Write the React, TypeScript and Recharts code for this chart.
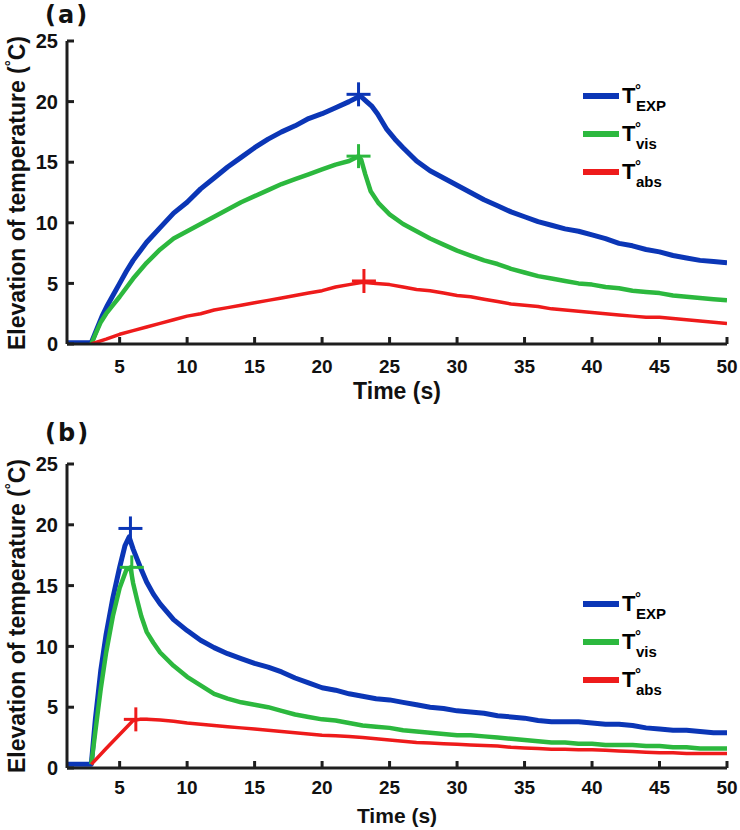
import React from 'react';
import { ComposedChart, Line, XAxis, YAxis, Legend } from 'recharts';

// ---------- Panel (a) data ----------
const tA_exp = [1.1, 2.0, 2.9, 3.3, 3.7, 4.1, 4.5, 5, 5.5, 6, 7, 8, 9, 10, 11, 12, 13, 14, 15, 16, 17, 18, 19, 20, 21, 22, 22.7,
  22.9, 23.3, 23.7, 24.1, 24.8, 25.4, 26, 27, 28, 29, 30, 31, 32, 33, 34, 35, 36, 37, 38, 39, 40, 41, 42, 43, 44, 45, 46, 47, 48, 49, 50];
const vA_exp = [0.1, 0.1, 0.1, 1.2, 2.3, 3.2, 4.0, 5.0, 6.0, 6.9, 8.4, 9.6, 10.8, 11.7, 12.8, 13.7, 14.6, 15.4, 16.2, 16.9, 17.5, 18.0, 18.6, 19.0, 19.5, 20.0, 20.4,
  20.4, 20.0, 19.6, 19.0, 17.7, 16.9, 16.2, 15.1, 14.3, 13.7, 13.1, 12.5, 11.9, 11.4, 10.9, 10.5, 10.1, 9.8, 9.5, 9.3, 9.0, 8.7, 8.3, 8.1, 7.8, 7.6, 7.3, 7.1, 6.9, 6.8, 6.7];

const tA_vis = [2.9, 3.2, 3.6, 4.0, 4.5, 5, 6, 7, 8, 9, 10, 11, 12, 13, 14, 15, 16, 17, 18, 19, 20, 21, 22, 22.7,
  22.9, 23.2, 23.6, 24.2, 25, 26, 27, 28, 29, 30, 31, 32, 33, 34, 35, 36, 37, 38, 39, 40, 41, 42, 43, 44, 45, 46, 47, 48, 49, 50];
const vA_vis = [0.0, 0.8, 1.8, 2.5, 3.2, 3.9, 5.4, 6.7, 7.8, 8.7, 9.3, 9.9, 10.5, 11.1, 11.7, 12.2, 12.7, 13.2, 13.6, 14.0, 14.4, 14.8, 15.1, 15.5,
  15.2, 14.0, 12.6, 11.6, 10.7, 9.9, 9.3, 8.7, 8.2, 7.7, 7.3, 6.9, 6.6, 6.2, 5.9, 5.6, 5.4, 5.2, 5.0, 4.9, 4.7, 4.6, 4.4, 4.3, 4.2, 4.0, 3.9, 3.8, 3.7, 3.6];

const tA_abs = [2.9, 4, 5, 6, 7, 8, 9, 10, 11, 12, 13, 14, 15, 16, 17, 18, 19, 20, 21, 22, 23,
  24, 25, 26, 27, 28, 29, 30, 31, 32, 33, 34, 35, 36, 37, 38, 39, 40, 41, 42, 43, 44, 45, 46, 47, 48, 49, 50];
const vA_abs = [0.0, 0.4, 0.8, 1.1, 1.4, 1.7, 2.0, 2.3, 2.5, 2.8, 3.0, 3.2, 3.4, 3.6, 3.8, 4.0, 4.2, 4.4, 4.7, 4.9, 5.1,
  5.0, 4.9, 4.7, 4.5, 4.4, 4.2, 4.0, 3.9, 3.7, 3.5, 3.3, 3.2, 3.1, 2.9, 2.8, 2.7, 2.6, 2.5, 2.4, 2.3, 2.2, 2.2, 2.1, 2.0, 1.9, 1.8, 1.7];

const peakA_t = [22.7, 22.7, 23.1];
const peakA_v = [20.6, 15.5, 5.2];

// ---------- Panel (b) data ----------
const tB_exp = [1.1, 2.0, 2.9, 3.2, 3.6, 4.0, 4.5, 5.0, 5.4, 5.7, 6.0, 6.5, 7, 7.5, 8, 9, 10, 11, 12, 13, 14, 15, 16, 17, 18, 19, 20,
  21, 22, 23, 24, 25, 26, 27, 28, 29, 30, 31, 32, 33, 34, 35, 36, 37, 38, 39, 40, 41, 42, 43, 44, 45, 46, 47, 48, 49, 50];
const vB_exp = [0.3, 0.3, 0.3, 4.0, 8.0, 11.0, 14.0, 16.5, 18.3, 19.0, 18.0, 16.6, 15.3, 14.3, 13.5, 12.2, 11.3, 10.5, 9.9, 9.4, 9.0, 8.6, 8.3, 7.9, 7.4, 7.0, 6.6,
  6.4, 6.1, 5.9, 5.7, 5.6, 5.4, 5.2, 5.0, 4.9, 4.7, 4.6, 4.5, 4.3, 4.2, 4.1, 3.9, 3.8, 3.8, 3.8, 3.7, 3.6, 3.6, 3.5, 3.3, 3.2, 3.1, 3.1, 3.0, 2.9, 2.9];

const tB_vis = [2.9, 3.2, 3.6, 4.0, 4.5, 5.0, 5.5, 5.8, 6.0, 6.3, 6.6, 7, 7.5, 8, 9, 10, 11, 12, 13, 14, 15, 16, 17, 18, 19, 20,
  21, 22, 23, 24, 25, 26, 27, 28, 29, 30, 31, 32, 33, 34, 35, 36, 37, 38, 39, 40, 41, 42, 43, 44, 45, 46, 47, 48, 49, 50];
const vB_vis = [0.3, 3.0, 6.5, 9.5, 12.5, 14.8, 16.3, 16.5, 15.2, 13.8, 12.5, 11.2, 10.3, 9.5, 8.4, 7.5, 6.8, 6.1, 5.7, 5.4, 5.2, 5.0, 4.7, 4.4, 4.2, 4.0,
  3.9, 3.7, 3.5, 3.4, 3.3, 3.1, 3.0, 2.9, 2.8, 2.7, 2.7, 2.6, 2.5, 2.4, 2.3, 2.2, 2.1, 2.1, 2.0, 2.0, 1.9, 1.9, 1.9, 1.8, 1.8, 1.7, 1.7, 1.6, 1.6, 1.6];

const tB_abs = [2.9, 4, 5, 6.0, 6.5, 7, 8, 9, 10, 11, 12, 13, 14, 15, 16, 17, 18, 19, 20,
  21, 22, 23, 24, 25, 26, 27, 28, 29, 30, 31, 32, 33, 34, 35, 36, 37, 38, 39, 40, 41, 42, 43, 44, 45, 46, 47, 48, 49, 50];
const vB_abs = [0.3, 1.6, 2.75, 3.9, 4.0, 4.0, 3.95, 3.85, 3.7, 3.6, 3.5, 3.4, 3.3, 3.2, 3.1, 3.0, 2.9, 2.8, 2.7,
  2.65, 2.6, 2.5, 2.4, 2.3, 2.2, 2.1, 2.05, 2.0, 1.95, 1.9, 1.85, 1.8, 1.7, 1.65, 1.6, 1.55, 1.55, 1.5, 1.5, 1.45, 1.4, 1.35, 1.3, 1.25, 1.25, 1.2, 1.2, 1.2, 1.2];

const peakB_t = [5.8, 5.9, 6.2];
const peakB_v = [19.7, 16.5, 4.0];

// ---------- Axes / labels ----------
const xTicks = [5, 10, 15, 20, 25, 30, 35, 40, 45, 50];
const yTicks = [0, 5, 10, 15, 20, 25];
const seriesNames = ['EXP', 'vis', 'abs'];
const seriesColors = ['#0b36b6', '#2cb83e', '#ee1b1b'];
const seriesWidths = [5, 4.5, 3.5];

const zip = (t: number[], v: number[]) => t.map((x, i) => ({ x, y: v[i] }));

const AXIS = '#1e1e1e';
const FONT = '"Liberation Sans", Arial, sans-serif';

const PlusDot = (props: any) => {
  const { cx, cy, stroke, index } = props;
  if (cx == null || cy == null) return <g key={index} />;
  const h = 12;
  return (
    <g key={`p${index}`}>
      <line x1={cx - h} y1={cy} x2={cx + h} y2={cy} stroke={stroke} strokeWidth={3} />
      <line x1={cx} y1={cy - h} x2={cx} y2={cy + h} stroke={stroke} strokeWidth={3} />
    </g>
  );
};

const renderLegend = (props: any) => {
  const payload = (props.payload || [])
    .filter((p: any) => seriesNames.indexOf(p.value) >= 0)
    .sort((a: any, b: any) => seriesNames.indexOf(a.value) - seriesNames.indexOf(b.value));
  return (
    <svg width={130} height={120} style={{ display: 'block', overflow: 'visible' }}>
      {payload.map((p: any, i: number) => {
        const cy = 14 + i * 38;
        return (
          <g key={i} fontFamily={FONT} fontWeight="bold" fill="#000">
            <line x1={3} y1={cy} x2={39} y2={cy} stroke={p.color} strokeWidth={6} />
            <text x={42} y={cy + 7} fontSize={22}>T</text>
            <text x={55} y={cy - 1} fontSize={15}>°</text>
            <text x={56} y={cy + 15} fontSize={15}>{p.value}</text>
          </g>
        );
      })}
    </svg>
  );
};

type PanelProps = {
  exp: { x: number; y: number }[];
  vis: { x: number; y: number }[];
  abs: { x: number; y: number }[];
  peaks: { x: number; y: number }[][];
  height: number;
  top: number;
  xAxisH: number;
  tickMarginX: number;
  legendTop: number;
};

const Panel = ({ exp, vis, abs, peaks, height, top, xAxisH, tickMarginX, legendTop }: PanelProps) => {
  const series = [exp, vis, abs];
  return (
    <ComposedChart width={740} height={height} margin={{ top, right: 13, bottom: 0, left: 0 }}>
      <XAxis
        type="number"
        dataKey="x"
        domain={[1.1, 50]}
        ticks={xTicks}
        interval={0}
        allowDataOverflow
        height={xAxisH}
        tickSize={-7}
        tickMargin={tickMarginX}
        axisLine={{ stroke: AXIS, strokeWidth: 3 }}
        tickLine={{ stroke: AXIS, strokeWidth: 3 }}
        tick={{ fontSize: 19, fontWeight: 'bold', fill: '#111', fontFamily: FONT }}
      />
      <YAxis
        type="number"
        domain={[0, 25]}
        ticks={yTicks}
        interval={0}
        allowDataOverflow
        width={67}
        tickSize={-7}
        tickMargin={16}
        axisLine={{ stroke: AXIS, strokeWidth: 3 }}
        tickLine={{ stroke: AXIS, strokeWidth: 3 }}
        tick={{ fontSize: 20, fontWeight: 'bold', fill: '#111', fontFamily: FONT }}
      />
      {series.map((d, i) => (
        <Line
          key={seriesNames[i]}
          data={d}
          dataKey="y"
          name={seriesNames[i]}
          type="linear"
          stroke={seriesColors[i]}
          strokeWidth={seriesWidths[i]}
          strokeLinejoin="round"
          dot={false}
          activeDot={false}
          isAnimationActive={false}
        />
      ))}
      {peaks.map((d, i) => (
        <Line
          key={'peak' + i}
          data={d}
          dataKey="y"
          name={'peak' + i}
          stroke={seriesColors[i]}
          strokeWidth={0}
          legendType="none"
          dot={<PlusDot stroke={seriesColors[i]} />}
          activeDot={false}
          isAnimationActive={false}
        />
      ))}
      <Legend
        layout="vertical"
        align="center"
        verticalAlign="middle"
        wrapperStyle={{ position: 'absolute', left: 580, top: legendTop, width: 130, height: 120 }}
        content={renderLegend}
      />
    </ComposedChart>
  );
};

const YLabel = ({ cx, cy }: { cx: number; cy: number }) => (
  <text
    x={cx}
    y={cy}
    transform={`rotate(-90 ${cx} ${cy})`}
    textAnchor="middle"
    fontFamily={FONT}
    fontWeight="bold"
    fontSize={23}
    fill="#111"
  >
    Elevation of temperature (
    <tspan fontSize={15} dy={-9}>°</tspan>
    <tspan dy={9}>C)</tspan>
  </text>
);

export default function App() {
  const peaksA = peakA_t.map((t, i) => [{ x: t, y: peakA_v[i] }]);
  const peaksB = peakB_t.map((t, i) => [{ x: t, y: peakB_v[i] }]);
  return (
    <div style={{ position: 'absolute', left: 0, top: 0, width: 740, height: 830, background: '#fff' }}>
      <div style={{ position: 'absolute', left: 0, top: 0 }}>
        <Panel
          exp={zip(tA_exp, vA_exp)}
          vis={zip(tA_vis, vA_vis)}
          abs={zip(tA_abs, vA_abs)}
          peaks={peaksA}
          height={410}
          top={41}
          xAxisH={66}
          tickMarginX={23}
          legendTop={82}
        />
      </div>
      <div style={{ position: 'absolute', left: 0, top: 410 }}>
        <Panel
          exp={zip(tB_exp, vB_exp)}
          vis={zip(tB_vis, vB_vis)}
          abs={zip(tB_abs, vB_abs)}
          peaks={peaksB}
          height={420}
          top={54}
          xAxisH={62}
          tickMarginX={20}
          legendTop={180}
        />
      </div>
      <svg
        width={740}
        height={830}
        style={{ position: 'absolute', left: 0, top: 0, pointerEvents: 'none' }}
      >
        <text x={45} y={23} fontFamily='"DejaVu Sans", sans-serif' fontWeight="bold" fontSize={24} letterSpacing={2} fill="#111">(a)</text>
        <text x={45} y={441} fontFamily='"DejaVu Sans", sans-serif' fontWeight="bold" fontSize={24} letterSpacing={2} fill="#111">(b)</text>
        <YLabel cx={25} cy={193} />
        <YLabel cx={25} cy={616} />
        <text x={397} y={399} textAnchor="middle" fontFamily={FONT} fontWeight="bold" fontSize={23} fill="#111">Time (s)</text>
        <text x={397} y={823} textAnchor="middle" fontFamily={FONT} fontWeight="bold" fontSize={21} fill="#111">Time (s)</text>
      </svg>
    </div>
  );
}
